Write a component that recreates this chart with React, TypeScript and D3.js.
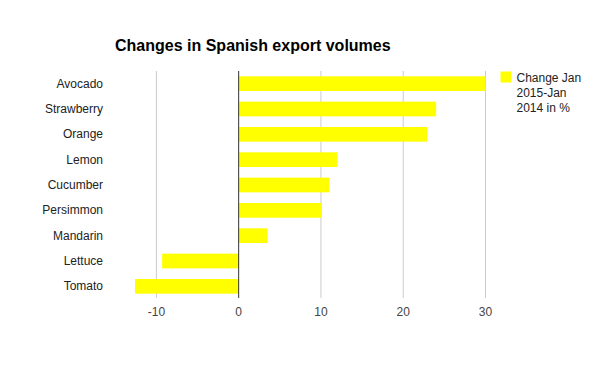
import React from 'react'
import * as d3 from 'd3'

const categories = ['Avocado', 'Strawberry', 'Orange', 'Lemon', 'Cucumber', 'Persimmon', 'Mandarin', 'Lettuce', 'Tomato']
const values = [30, 24, 22.9, 12, 11, 10.1, 3.5, -9.3, -12.6]
const ticks = [-10, 0, 10, 20, 30]
const legendLines = ['Change Jan', '2015-Jan', '2014 in %']
const title = 'Changes in Spanish export volumes'

const width = 600
const height = 371
const font = 'Arial, "Liberation Sans", sans-serif'

export default function App () {
  const plot = { left: 135, right: 485.5, top: 71, bottom: 299 }

  const x = d3.scaleLinear()
    .domain([d3.min(values) as number, d3.max(values) as number])
    .range([plot.left, plot.right])

  const y = d3.scaleBand<string>()
    .domain(categories)
    .range([plot.top, plot.bottom])
    .paddingInner(0.42)
    .paddingOuter(0.21)

  return (
    <svg width={width} height={height} style={{ position: 'absolute', left: 0, top: 0, fontFamily: font }}>
      <rect width={width} height={height} fill='#fff' />
      <text x={115} y={50.5} fontSize={16} fontWeight='bold' fill='#000'>{title}</text>

      {/* gridlines */}
      {ticks.filter(t => t !== 0).map(t => (
        <line key={t} x1={x(t)} x2={x(t)} y1={plot.top} y2={plot.bottom - 1} stroke='#cccccc' strokeWidth={1} />
      ))}

      {/* bars */}
      {categories.map((c, i) => {
        const v = values[i]
        return (
          <rect key={c}
            x={x(Math.min(0, v))}
            y={y(c)}
            width={Math.abs(x(v) - x(0))}
            height={y.bandwidth()}
            fill='#ffff00' />
        )
      })}

      <line x1={x(0)} x2={x(0)} y1={plot.top} y2={plot.bottom - 1} stroke='#333333' strokeWidth={1} />

      {/* category labels */}
      {categories.map(c => (
        <text key={c} x={103} y={(y(c) as number) + y.bandwidth() / 2 + 4} textAnchor='end' fontSize={12} fill='#222222'>{c}</text>
      ))}

      {/* tick labels */}
      {ticks.map(t => (
        <text key={t} x={x(t)} y={316} textAnchor='middle' fontSize={12} fill='#444444'>{t}</text>
      ))}

      {/* legend */}
      <rect x={500.5} y={71.5} width={11} height={11} fill='#ffff00' />
      {legendLines.map((l, i) => (
        <text key={l} x={516.5} y={82 + i * 15} fontSize={12} fill='#222222'>{l}</text>
      ))}
    </svg>
  )
}
